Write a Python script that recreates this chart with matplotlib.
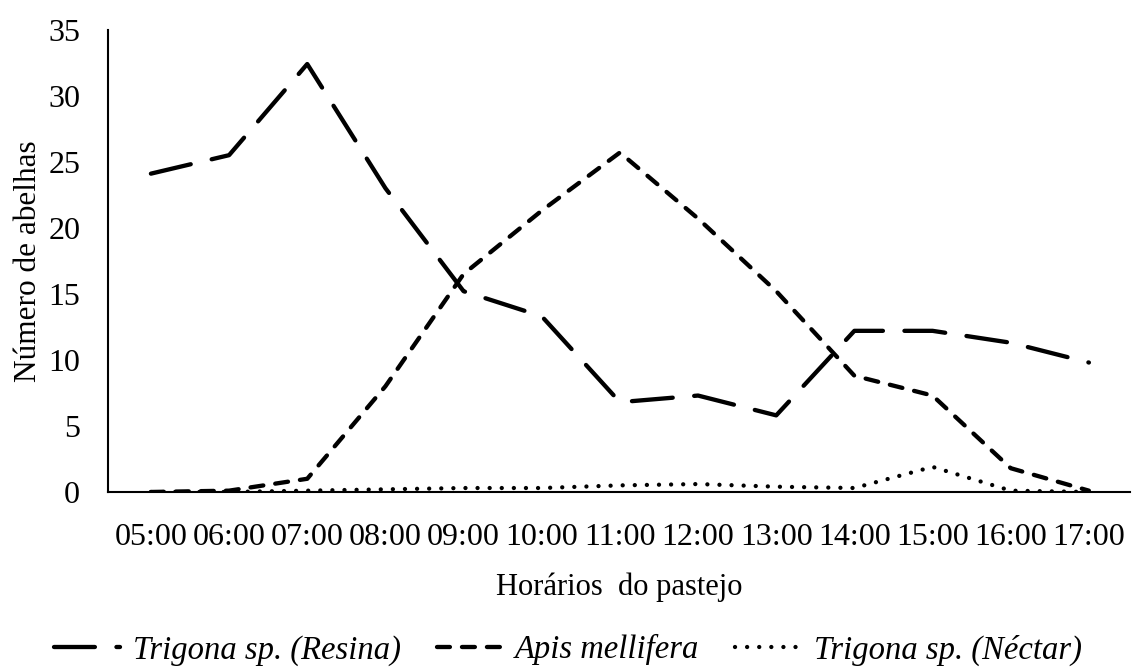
import matplotlib.pyplot as plt

plt.rcParams['font.family'] = ['Liberation Serif', 'DejaVu Serif']

horarios = ['05:00', '06:00', '07:00', '08:00', '09:00', '10:00', '11:00',
            '12:00', '13:00', '14:00', '15:00', '16:00', '17:00']
resina = [24.1, 25.5, 32.4, 23.0, 15.2, 13.3, 6.8, 7.3, 5.8, 12.2, 12.2, 11.3, 9.8]
apis = [0.0, 0.1, 1.0, 8.0, 16.5, 21.3, 25.7, 20.7, 15.2, 8.8, 7.3, 1.8, 0.1]
nectar = [0.0, 0.0, 0.1, 0.2, 0.3, 0.3, 0.5, 0.6, 0.4, 0.3, 1.9, 0.1, 0.0]

fs = 23
fig = plt.figure(figsize=(11.36, 6.7), dpi=100)
ax = fig.add_axes([0.095, 0.2657, 0.9, 0.69])

x = range(len(horarios))
lw = 3.1
ax.plot(x, resina, color='black', lw=lw, dashes=(9.5, 5), dash_capstyle='round',
        solid_joinstyle='round', label='Trigona sp. (Resina)')
ax.plot(x, apis, color='black', lw=lw, dashes=(3, 2.8), dash_capstyle='round',
        label='Apis mellifera')
ax.plot(x, nectar, color='black', lw=lw, dashes=(0.01, 2.8), dash_capstyle='round',
        label='Trigona sp. (Néctar)')

ax.set_ylim(0, 35)
ax.set_xlim(-0.55, len(horarios) - 0.47)
ax.set_yticks(range(0, 36, 5))
ax.set_xticks(list(x))
ax.set_xticklabels(horarios)
ax.tick_params(length=0, labelsize=fs)
ax.tick_params(axis='x', pad=22)
ax.tick_params(axis='y', pad=20)
for s in ['top', 'right']:
    ax.spines[s].set_visible(False)
ax.spines['left'].set_linewidth(1.5)
ax.spines['bottom'].set_linewidth(1.5)

ax.set_xlabel('Horários  do pastejo', fontsize=22, labelpad=15)
ax.set_ylabel('Número de abelhas', fontsize=22.5, labelpad=4)

leg = fig.legend(loc='center', bbox_to_anchor=(0.5, 0.03), ncol=3, frameon=False,
                 prop={'size': 23.5, 'style': 'italic'}, handlelength=2.0,
                 columnspacing=1.1, handletextpad=0.4)

fig.savefig('out.png', dpi=100)
